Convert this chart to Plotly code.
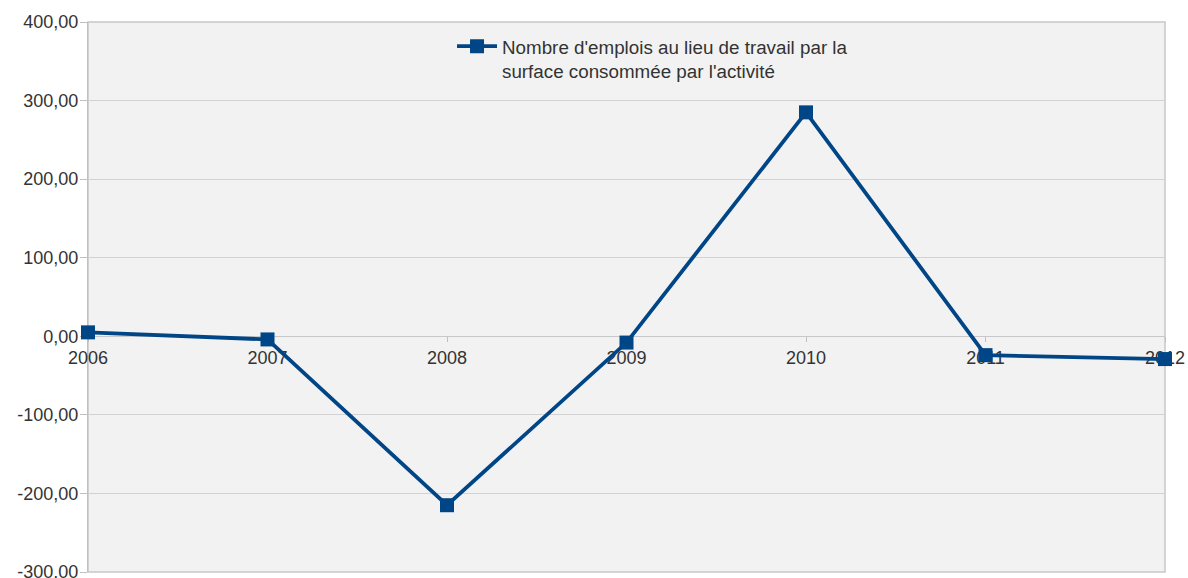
import plotly.graph_objects as go

# Yearly ratio: jobs at place of work per surface consumed by the activity
years = [2006, 2007, 2008, 2009, 2010, 2011, 2012]
values = [5, -4, -215, -8, 285, -24, -29]
series_name = "Nombre d'emplois au lieu de travail par la<br>surface consommée par l'activité"

y_ticks = [400, 300, 200, 100, 0, -100, -200, -300]
y_tick_text = ["400,00", "300,00", "200,00", "100,00", "0,00", "-100,00", "-200,00", "-300,00"]
x_tick_text = [str(y) for y in years]

y_min, y_max = min(y_ticks), max(y_ticks)
line_blue = "#004586"
grid_gray = "#d2d2d2"
text_gray = "#333333"
font_family = "Liberation Sans, Arial, sans-serif"

fig = go.Figure()
fig.add_trace(go.Scatter(
    x=years, y=values, name=series_name,
    mode="lines+markers",
    line=dict(color=line_blue, width=3.8),
    marker=dict(symbol="square", size=14, color=line_blue),
    cliponaxis=False,
    showlegend=True,
))

# plot-area frame
fig.add_shape(type="rect", xref="paper", yref="paper", x0=0, y0=0, x1=1, y1=1,
              line=dict(color="#c8c8c8", width=1.5), layer="below")

fig.update_layout(
    width=1188, height=578,
    margin=dict(l=88, r=23, t=22, b=6),
    paper_bgcolor="white",
    plot_bgcolor="#f2f2f2",
    font=dict(family=font_family, size=18, color=text_gray),
    showlegend=True,
    legend=dict(
        x=0.338, y=0.99, xanchor="left", yanchor="top",
        valign="top",
        bgcolor="rgba(0,0,0,0)", font=dict(size=18.8, color=text_gray),
        itemwidth=40,
    ),
    xaxis=dict(
        range=[years[0], years[-1]],
        tickvals=years, ticktext=x_tick_text,
        showgrid=False, zeroline=False,
        anchor="free", position=(0 - y_min) / (y_max - y_min),
        showline=True, linecolor="#c8c8c8", linewidth=1,
        ticks="outside", ticklen=5, tickcolor="#c0c0c0",
        tickfont=dict(size=18, color=text_gray),
        layer="below traces",
        ticklabeloverflow="allow",
        automargin=False,
    ),
    yaxis=dict(
        range=[y_min, y_max],
        tickvals=y_ticks, ticktext=y_tick_text,
        showgrid=True, gridcolor=grid_gray, gridwidth=1,
        zeroline=False,
        showline=True, linecolor="#c0c0c0", linewidth=1,
        ticks="outside", ticklen=7, tickcolor="#c0c0c0",
        tickfont=dict(size=18, color=text_gray),
        ticklabelstandoff=-2,
        ticklabeloverflow="allow",
        layer="below traces",
        automargin=False,
    ),
)

fig.write_html("out.html")
